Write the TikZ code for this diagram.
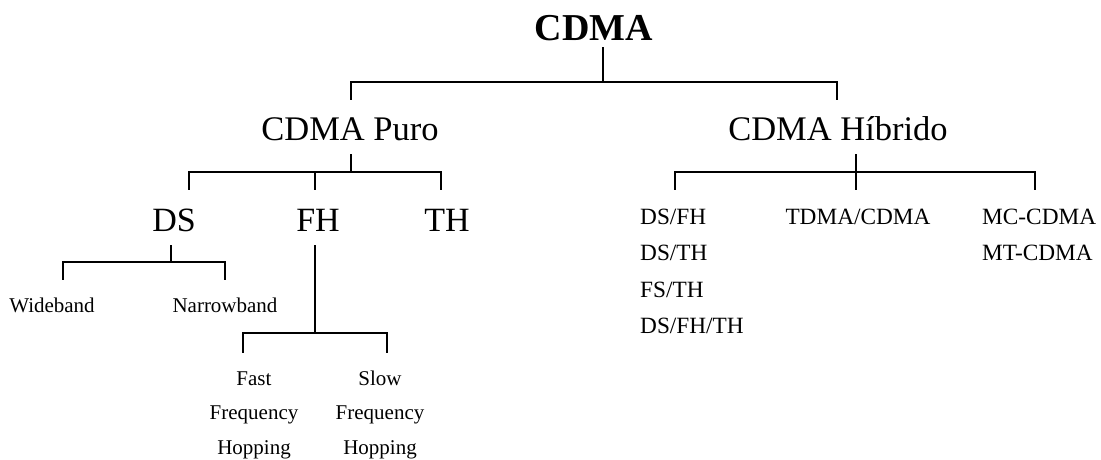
\documentclass[tikz,border=0pt]{standalone}
\usepackage{fontspec}
\setmainfont{Liberation Serif}
\begin{document}
\begin{tikzpicture}[x=1pt,y=-1pt,
  lbl/.style={inner sep=0pt,anchor=base},
  lvlA/.style={lbl,font=\fontsize{38}{44}\selectfont\bfseries},
  lvlB/.style={lbl,font=\fontsize{34.5}{40}\selectfont},
  lvlC/.style={lbl,font=\fontsize{34}{40}\selectfont},
  leafL/.style={lbl,font=\fontsize{21}{25}\selectfont},
  leafR/.style={lbl,font=\fontsize{23.3}{27}\selectfont},
  bracket/.style={draw,line width=1.5pt,line cap=rect,line join=miter}]
\useasboundingbox (0,0) rectangle (1101,459);

% labels
\node[lvlA] (cdma) at (594,40) {CDMA};
\node[lvlB] (puro) at (350,140) {CDMA Puro};
\node[lvlB] (hib) at (838,140) {CDMA Híbrido};
\node[lvlC] (ds) at (174,231) {DS};
\node[lvlC] (fh) at (318,231) {FH};
\node[lvlC] (th) at (447,231) {TH};
\node[leafL] (wide) at (52,312) {Wideband};
\node[leafL] (narrow) at (225,312) {Narrowband};
\node[leafL] (fast1) at (254,385) {Fast};
\node[leafL] (fast2) at (254,419.5) {Frequency};
\node[leafL] (fast3) at (254,454) {Hopping};
\node[leafL] (slow1) at (380,385) {Slow};
\node[leafL] (slow2) at (380,419.5) {Frequency};
\node[leafL] (slow3) at (380,454) {Hopping};
\node[leafR,anchor=base west] (h1) at (640,224) {DS/FH};
\node[leafR,anchor=base west] (h2) at (640,260.5) {DS/TH};
\node[leafR,anchor=base west] (h3) at (640,297) {FS/TH};
\node[leafR,anchor=base west] (h4) at (640,333) {DS/FH/TH};
\node[leafR] (tdma) at (858,224) {TDMA/CDMA};
\node[leafR,anchor=base west] (mc) at (982,224) {MC-CDMA};
\node[leafR,anchor=base west] (mt) at (982,260.5) {MT-CDMA};

% junction points of the brackets
\coordinate (cdmaS) at (603,48);
\coordinate (cdmaJ) at (603,82);
\coordinate (puroN) at (351,99);
\coordinate (hibN) at (837,99);
\coordinate (puroS) at (351,155);
\coordinate (puroJ) at (351,172);
\coordinate (dsN) at (189,189);
\coordinate (fhN) at (315,189);
\coordinate (fhT) at (315,172);
\coordinate (thN) at (441,189);
\coordinate (hibS) at (856,155);
\coordinate (hibJ) at (856,172);
\coordinate (tdmaN) at (856,189);
\coordinate (hA) at (675,189);
\coordinate (hC) at (1035,189);
\coordinate (dsS) at (171,246);
\coordinate (dsJ) at (171,262);
\coordinate (wideN) at (63,279);
\coordinate (narrowN) at (225,279);
\coordinate (fhS) at (315,246);
\coordinate (fhJ) at (315,333);
\coordinate (fastN) at (243,352);
\coordinate (slowN) at (387,352);

% connectors
\draw[bracket] (cdmaS) -- (cdmaJ);
\draw[bracket] (puroN) |- (cdmaJ) -| (hibN);
\draw[bracket] (puroS) -- (puroJ);
\draw[bracket] (dsN) |- (puroJ) -| (thN);
\draw[bracket] (fhN) -- (fhT);
\draw[bracket] (hibS) -- (tdmaN);
\draw[bracket] (hA) |- (hibJ) -| (hC);
\draw[bracket] (dsS) -- (dsJ);
\draw[bracket] (wideN) |- (dsJ) -| (narrowN);
\draw[bracket] (fhS) -- (fhJ);
\draw[bracket] (fastN) |- (fhJ) -| (slowN);
\end{tikzpicture}
\end{document}
